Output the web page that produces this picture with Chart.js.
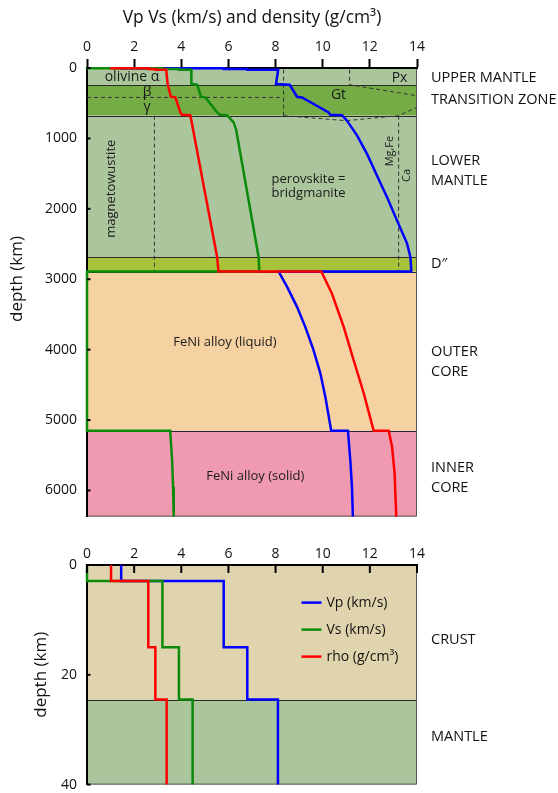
<!DOCTYPE html>
<html><head><meta charset="utf-8">
<script src="https://cdn.jsdelivr.net/npm/chart.js@4.4.0/dist/chart.umd.min.js"></script>
<style>
html,body{margin:0;padding:0;background:#fff;}
#c1{position:absolute;left:0;top:0;}
#c2{position:absolute;left:0;top:530px;}
</style></head><body>
<canvas id="c1" width="558" height="535"></canvas>
<canvas id="c2" width="558" height="273"></canvas>
<script>
// ================= DATA =================
const xTicks = [0, 2, 4, 6, 8, 10, 12, 14];
const earthDepthTicks = [0, 1000, 2000, 3000, 4000, 5000, 6000];
const crustDepthTicks = [0, 20, 40];

// Whole-Earth profiles: depth (km) and value
const vpDepth = [0, 3, 3, 15, 15, 24.4, 24.4, 228, 238, 408, 418, 630, 663, 670, 748, 960, 1220, 1527, 1834, 2164, 2494, 2684, 2891, 2891, 3109, 3392, 3676, 4006, 4336, 4667, 5150, 5150, 5567, 5942, 6371];
const vpValue = [1.45, 1.45, 5.8, 5.8, 6.8, 6.8, 8.11, 8.02, 8.60, 8.91, 9.12, 10.25, 10.32, 10.82, 11.03, 11.46, 11.88, 12.30, 12.73, 13.15, 13.58, 13.72, 13.76, 8.13, 8.49, 8.91, 9.26, 9.61, 9.90, 10.11, 10.36, 11.07, 11.17, 11.24, 11.28];
const vsDepth = [0, 3, 3, 15, 15, 24.4, 24.4, 228, 238, 408, 418, 630, 663, 670, 772, 880, 2684, 2891, 2891, 5150, 5150, 5567, 5942, 6371];
const vsValue = [0, 0, 3.2, 3.2, 3.9, 3.9, 4.42, 4.43, 4.67, 4.84, 5.02, 5.52, 5.63, 5.94, 6.22, 6.33, 7.28, 7.31, 0, 0, 3.53, 3.61, 3.65, 3.68];
const rhoDepth = [0, 3, 3, 15, 15, 24.4, 24.4, 228, 408, 418, 630, 663, 670, 748, 2684, 2891, 2891, 3203, 3676, 4147, 4619, 5150, 5150, 5375, 5752, 6371];
const rhoValue = [1.02, 1.02, 2.6, 2.6, 2.9, 2.9, 3.36, 3.42, 3.56, 3.75, 3.96, 4.03, 4.38, 4.43, 5.52, 5.58, 9.94, 10.39, 10.89, 11.31, 11.74, 12.16, 12.80, 12.94, 13.05, 13.12];

// Crust close-up profiles (depth km, value)
const crustVpDepth = [0, 2.9, 2.9, 15, 15, 24.5, 24.5, 40];
const crustVpValue = [1.45, 1.45, 5.8, 5.8, 6.8, 6.8, 8.1, 8.1];
const crustVsDepth = [0, 2.9, 2.9, 15, 15, 24.5, 24.5, 40];
const crustVsValue = [0, 0, 3.2, 3.2, 3.9, 3.9, 4.48, 4.48];
const crustRhoDepth = [0, 2.9, 2.9, 15, 15, 24.5, 24.5, 40];
const crustRhoValue = [1.02, 1.02, 2.6, 2.6, 2.9, 2.9, 3.38, 3.38];

// Mineral phase boundaries (dashed): value and depth
const betaGammaX = [0, 8.34];           const betaGammaD = [418, 418];
const magnetowustiteX = [2.86, 2.86];   const magnetowustiteD = [677, 2891];
const olivineGarnetX = [8.34, 8.34];    const olivineGarnetD = [24, 677];
const pyroxeneX = [11.14, 11.14, 14];   const pyroxeneD = [24, 238, 394];
const garnetBaseX = [8.34, 11.0, 13.22, 14]; const garnetBaseD = [677, 748, 677, 559];
const calciumX = [13.22, 13.22];        const calciumD = [677, 2891];

// Earth layers
const layerNames  = ['UPPER MANTLE', 'TRANSITION ZONE', 'LOWER MANTLE', 'D″', 'OUTER CORE', 'INNER CORE'];
const layerTops   = [0, 238, 677, 2684, 2891, 5150];
const layerBottoms= [238, 677, 2684, 2891, 5150, 6371];
const crustLayerNames = ['CRUST', 'MANTLE'];
const crustLayerTops = [0, 24.5];
const crustLayerBottoms = [24.5, 40];

const seriesLabels = ['Vp (km/s)', 'Vs (km/s)', 'rho (g/cm³)'];

// ================= STYLE =================
const FONT = "'Open Sans', 'Noto Sans', sans-serif";
const seriesColors = ['#0000ff', '#0b8a0b', '#ff0000'];
const layerColors = ['#abc59c', '#75ac46', '#abc59c', '#a8c23b', '#f6d2a2', '#ef9ab1'];
const crustLayerColors = ['#e0d4ae', '#abc59c'];

const zip = (xs, ds) => xs.map((v, i) => ({x: v, y: ds[i]}));

function seriesDataset(label, color, xs, ds) {
  return {label, data: zip(xs, ds), borderColor: color, backgroundColor: color,
    borderWidth: 2.5, showLine: true, pointRadius: 0, fill: false, clip: false, tension: 0};
}
function dashedDataset(label, xs, ds) {
  return {label, data: zip(xs, ds), borderColor: '#333', borderWidth: 1, borderDash: [4, 3],
    showLine: true, pointRadius: 0, fill: false, tension: 0};
}

const extras = {
  id: 'extras',
  beforeDraw(chart) {
    const o = chart.options.plugins.extras;
    const {ctx, chartArea: a, scales: {x, y}} = chart;
    ctx.save();
    o.layerTops.forEach((t, i) => {
      const y0 = y.getPixelForValue(t), y1 = y.getPixelForValue(o.layerBottoms[i]);
      ctx.fillStyle = o.layerColors[i];
      ctx.fillRect(a.left, y0, a.right - a.left, y1 - y0);
    });
    ctx.strokeStyle = '#2a2a2a'; ctx.lineWidth = 1;
    o.layerTops.slice(1).forEach(t => {
      const py = Math.round(y.getPixelForValue(t)) + 0.5;
      ctx.beginPath(); ctx.moveTo(a.left, py); ctx.lineTo(a.right, py); ctx.stroke();
    });
    ctx.strokeStyle = '#555';
    ctx.beginPath();
    ctx.moveTo(a.right - 0.5, a.top); ctx.lineTo(a.right - 0.5, a.bottom - 0.5); ctx.lineTo(a.left, a.bottom - 0.5);
    ctx.stroke();
    ctx.restore();
  },
  afterDraw(chart) {
    const o = chart.options.plugins.extras;
    const {ctx, chartArea: a, scales: {x, y}} = chart;
    ctx.save();
    ctx.fillStyle = '#000'; ctx.strokeStyle = '#000';
    ctx.lineWidth = 2;
    y.ticks.forEach(t => {
      const py = y.getPixelForValue(t.value);
      ctx.beginPath(); ctx.moveTo(a.left, py); ctx.lineTo(a.left + 3.5, py); ctx.stroke();
    });
    if (o.innerXTicks) {
      x.ticks.forEach(t => {
        const px = x.getPixelForValue(t.value);
        ctx.beginPath(); ctx.moveTo(px, a.top); ctx.lineTo(px, a.top + 8); ctx.stroke();
      });
    }
    ctx.fillStyle = '#1a1a1a';
    (o.notes || []).forEach(n => {
      ctx.save();
      ctx.font = (n.size || 13) + 'px ' + FONT;
      ctx.translate(x.getPixelForValue(n.x), y.getPixelForValue(n.d));
      if (n.rot) ctx.rotate(-Math.PI / 2);
      ctx.textAlign = 'center'; ctx.textBaseline = 'middle';
      ctx.fillText(n.text, 0, 0);
      ctx.restore();
    });
    ctx.font = '14.5px ' + FONT; ctx.fillStyle = '#111';
    ctx.textAlign = 'left'; ctx.textBaseline = 'middle';
    o.sideLabels.forEach(s => {
      const py = y.getPixelForValue(s.d);
      s.lines.forEach((ln, k) => ctx.fillText(ln, a.right + 14, py + k * 20));
    });
    if (o.legend) {
      const L = o.legend;
      const lx = x.getPixelForValue(L.x), ly = y.getPixelForValue(L.d);
      ctx.font = '14px ' + FONT;
      L.order.forEach((idx, k) => {
        const ds = chart.data.datasets[idx];
        const py = ly + k * 27;
        ctx.strokeStyle = ds.borderColor; ctx.lineWidth = 2.5;
        ctx.beginPath(); ctx.moveTo(lx, py); ctx.lineTo(lx + 20, py); ctx.stroke();
        ctx.fillStyle = '#111';
        ctx.fillText(ds.label, lx + 25, py);
      });
    }
    ctx.restore();
  }
};

function baseOptions(cfg) {
  return {
    responsive: false, animation: false, devicePixelRatio: 1,
    layout: {padding: cfg.padding},
    plugins: {legend: {display: false}, tooltip: {enabled: false}, extras: cfg.extras},
    scales: {
      x: {
        type: 'linear', position: 'top', min: 0, max: 14,
        afterBuildTicks: s => { s.ticks = xTicks.map(v => ({value: v})); },
        afterFit: s => { s.height = cfg.xHeight; },
        grid: {drawOnChartArea: false, drawTicks: cfg.outerXTicks, tickLength: 9, tickWidth: 2, tickColor: '#000'},
        border: {display: true, color: '#000', width: 2},
        ticks: {color: '#111', font: {family: FONT, size: 14}, padding: cfg.xTickPad, maxRotation: 0, callback: v => String(v)},
        title: cfg.title ? {display: true, text: cfg.title, color: '#111', font: {family: FONT, size: 17.4}, padding: {top: 8, bottom: 0}} : {display: false}
      },
      y: {
        type: 'linear', reverse: true, min: cfg.yMin, max: cfg.yMax,
        afterBuildTicks: s => { s.ticks = cfg.yTicks.map(v => ({value: v})); },
        afterFit: s => { s.width = 87; },
        grid: {drawOnChartArea: false, drawTicks: false},
        border: {display: true, color: '#000', width: 2},
        ticks: {color: '#111', font: {family: FONT, size: 14}, padding: 10, callback: v => String(v)},
        title: {display: true, text: cfg.yTitle, color: '#111', font: {family: FONT, size: 17}, padding: {top: cfg.yTitlePad, bottom: 0}}
      }
    }
  };
}

// ---------- Top chart: whole Earth ----------
new Chart(document.getElementById('c1'), {
  type: 'scatter',
  plugins: [extras],
  data: {datasets: [
    seriesDataset(seriesLabels[2], seriesColors[2], rhoValue, rhoDepth),
    seriesDataset(seriesLabels[1], seriesColors[1], vsValue, vsDepth),
    seriesDataset(seriesLabels[0], seriesColors[0], vpValue, vpDepth),
    dashedDataset('beta-gamma', betaGammaX, betaGammaD),
    dashedDataset('magnetowustite', magnetowustiteX, magnetowustiteD),
    dashedDataset('olivine-garnet', olivineGarnetX, olivineGarnetD),
    dashedDataset('pyroxene', pyroxeneX, pyroxeneD),
    dashedDataset('garnet base', garnetBaseX, garnetBaseD),
    dashedDataset('calcium', calciumX, calciumD)
  ]},
  options: baseOptions({
    padding: {left: 0, top: 0, right: 141, bottom: 0},
    xHeight: 68, outerXTicks: true, xTickPad: 4,
    title: 'Vp Vs (km/s) and density (g/cm³)',
    yMin: 0, yMax: 6371, yTicks: earthDepthTicks, yTitlePad: 7,
    yTitle: '      depth (km)',
    extras: {
      layerTops, layerBottoms, layerColors,
      notes: [
        {text: 'olivine α', x: 1.91, d: 125, size: 14},
        {text: 'β', x: 2.55, d: 337, size: 14},
        {text: 'γ', x: 2.55, d: 559, size: 14},
        {text: 'Px', x: 13.26, d: 143, size: 14},
        {text: 'Gt', x: 10.67, d: 384, size: 14},
        {text: 'magnetowustite', x: 1.02, d: 1715, rot: true},
        {text: 'perovskite =', x: 9.40, d: 1574},
        {text: 'bridgmanite', x: 9.40, d: 1786},
        {text: 'Mg,Fe', x: 12.84, d: 1180, rot: true, size: 11},
        {text: 'Ca', x: 13.58, d: 1527, rot: true, size: 11},
        {text: 'FeNi alloy (liquid)', x: 5.85, d: 3897},
        {text: 'FeNi alloy (solid)', x: 7.14, d: 5800}
      ],
      sideLabels: [
        {lines: [layerNames[0]], d: 139},
        {lines: [layerNames[1]], d: 455},
        {lines: ['LOWER', 'MANTLE'], d: 1324},
        {lines: [layerNames[3]], d: 2788},
        {lines: ['OUTER', 'CORE'], d: 4030},
        {lines: ['INNER', 'CORE'], d: 5686}
      ]
    }
  })
});

// ---------- Bottom chart: crust ----------
new Chart(document.getElementById('c2'), {
  type: 'scatter',
  plugins: [extras],
  data: {datasets: [
    seriesDataset(seriesLabels[2], seriesColors[2], crustRhoValue, crustRhoDepth),
    seriesDataset(seriesLabels[1], seriesColors[1], crustVsValue, crustVsDepth),
    seriesDataset(seriesLabels[0], seriesColors[0], crustVpValue, crustVpDepth)
  ]},
  options: baseOptions({
    padding: {left: 0, top: 0, right: 141, bottom: 0},
    xHeight: 35, outerXTicks: false, xTickPad: 3,
    title: null,
    yMin: 0, yMax: 40, yTicks: crustDepthTicks, yTitlePad: 31,
    yTitle: 'depth (km)',
    extras: {
      layerTops: crustLayerTops, layerBottoms: crustLayerBottoms, layerColors: crustLayerColors,
      innerXTicks: true,
      notes: [],
      sideLabels: [
        {lines: [crustLayerNames[0]], d: 13.6},
        {lines: [crustLayerNames[1]], d: 31.3}
      ],
      legend: {x: 9.1, d: 6.85, order: [2, 1, 0]}
    }
  })
});
</script>
</body></html>
